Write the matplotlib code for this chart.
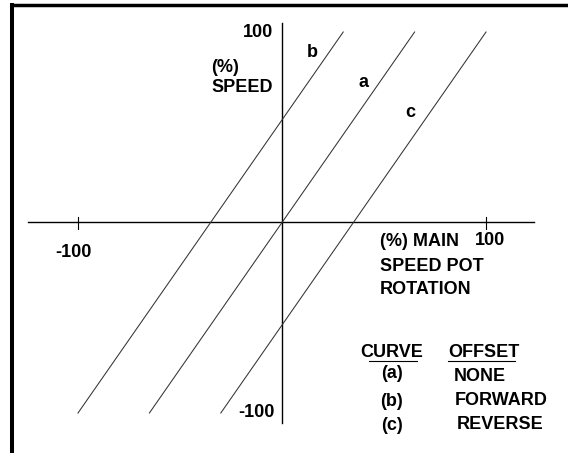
import matplotlib
matplotlib.use("Agg")
import matplotlib.pyplot as plt
from matplotlib.lines import Line2D

# ---- data ----
speed_range = [-100, 100]            # speed (%) at the two ends of each curve
rotation_a = [-65, 65]               # curve (a) - no offset
rotation_b = [-100, 30]              # curve (b) - forward offset
rotation_c = [-30, 100]              # curve (c) - reverse offset
x_ticks = [-100, 100]
x_tick_labels = ["-100", "100"]
y_tick_labels = ["100", "-100"]
curve_names = ["(a)", "(b)", "(c)"]
offset_names = ["NONE", "FORWARD", "REVERSE"]

# ---- geometry (pixel layout of the reference) ----
W, H = 568, 453
X0_PX, PX_PER_X = 282.0, 2.04
Y0_PX, PX_PER_Y = 222.5, 1.905

def P(px, py):
    """pixel position -> data coordinates"""
    return ((px - X0_PX) / PX_PER_X, (Y0_PX - py) / PX_PER_Y)

plt.rcParams["font.family"] = ["Liberation Sans", "DejaVu Sans"]
FS = 13

fig = plt.figure(figsize=(W / 100, H / 100), dpi=100)
ax = fig.add_axes([0, 0, 1, 1])
ax.set_xlim(-X0_PX / PX_PER_X, (W - X0_PX) / PX_PER_X)
ax.set_ylim(-(H - Y0_PX) / PX_PER_Y, Y0_PX / PX_PER_Y)
ax.axis("off")

# frame (top and left)
fig.add_artist(Line2D([10 / W, 1], [1 - 4.5 / H, 1 - 4.5 / H], transform=fig.transFigure,
                      color="black", lw=2.5, solid_capstyle="butt"))
fig.add_artist(Line2D([12 / W, 12 / W], [0, 1 - 3 / H], transform=fig.transFigure,
                      color="black", lw=2.9, solid_capstyle="butt"))

# axes
hx0, _ = P(28, 0); hx1, _ = P(534, 0)
ax.plot([hx0, hx1], [0, 0], color="black", lw=1.0)
_, vy0 = P(0, 23); _, vy1 = P(0, 423)
ax.plot([0, 0], [vy0, vy1], color="black", lw=1.0)
_, t0 = P(0, 217); _, t1 = P(0, 229)
for xt in x_ticks:
    ax.plot([xt, xt], [t0, t1], color="black", lw=0.8)

# curves
for rot in (rotation_a, rotation_b, rotation_c):
    ax.plot(rot, speed_range, color="#333333", lw=0.75)

def txt(px, py, s, ha="left"):
    x, y = P(px, py)
    ax.text(x, y, s, ha=ha, va="baseline", fontsize=FS, fontweight="bold", color="black")

# y tick labels
txt(273, 37, y_tick_labels[0], ha="right")
txt(275, 417, y_tick_labels[1], ha="right")
# x tick labels
txt(73, 257, x_tick_labels[0], ha="center")
txt(490, 245, x_tick_labels[1], ha="center")

# axis titles
txt(211, 72, "(%)")
txt(211, 92, "SPEED")
txt(380, 246, "(%) MAIN")
txt(380, 271, "SPEED POT")
txt(380, 293.5, "ROTATION")

# curve letters
txt(312, 57, "b", ha="center")
txt(363, 87, "a", ha="center")
txt(410, 117, "c", ha="center")

# legend table
txt(360, 357, "CURVE")
txt(448, 357, "OFFSET")
ux0, uy = P(369, 361); ux1, _ = P(417, 361)
ax.plot([ux0, ux1], [uy, uy], color="black", lw=0.8)
ux0, uy = P(448, 361); ux1, _ = P(515, 361)
ax.plot([ux0, ux1], [uy, uy], color="black", lw=0.8)

curve_baselines = [377.5, 405.5, 430.5]
offset_x = [454, 455, 457]
offset_baselines = [381, 405, 429]
for name, yb in zip(curve_names, curve_baselines):
    txt(391.5, yb, name, ha="center")
for name, xo, yb in zip(offset_names, offset_x, offset_baselines):
    txt(xo, yb, name)

fig.savefig("out.png", dpi=100)
